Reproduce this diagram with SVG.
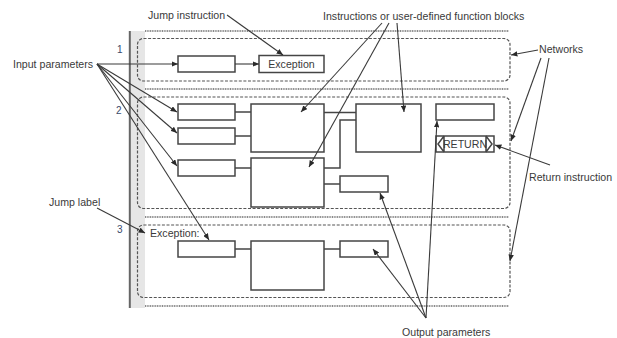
<svg xmlns="http://www.w3.org/2000/svg" width="617" height="338" viewBox="0 0 617 338">
<defs>
<style>
text{font-family:"Liberation Sans",Arial,sans-serif;font-size:10.6px;fill:#3a3a3a}
.num{font-size:10px;fill:#3a4a6a}
.box{fill:#fff;stroke:#454545;stroke-width:1.5}
.wire{fill:none;stroke:#454545;stroke-width:1.5}
.lead{fill:none;stroke:#3a3a3a;stroke-width:1.1;marker-end:url(#ah)}
.net{fill:none;stroke:#555;stroke-width:1.2;stroke-dasharray:3 1.6}
.sep{fill:none;stroke:#8a8a8a;stroke-width:2;stroke-dasharray:1 0.7}
</style>
<marker id="ah" viewBox="0 0 7 6" refX="7" refY="3" markerWidth="6.5" markerHeight="5.5" markerUnits="userSpaceOnUse" orient="auto">
<path d="M0,0 L7,3 L0,6 z" fill="#2a2a2a"/>
</marker>
</defs>
<rect width="617" height="338" fill="#fff"/>

<g id="rail">
<rect x="129" y="31" width="16" height="277" fill="#e6e6e6"/>
<line x1="129.8" y1="31" x2="129.8" y2="308" stroke="#666" stroke-width="2"/>
</g>

<g id="separators">
<line class="sep" x1="145" y1="31" x2="509" y2="31"/>
<line class="sep" x1="145" y1="89" x2="509" y2="89"/>
<line class="sep" x1="145" y1="217" x2="509" y2="217"/>
<line class="sep" x1="145" y1="306" x2="509" y2="306"/>
</g>

<g id="network1">
<rect class="net" x="137.5" y="38.5" width="372.5" height="42.5" rx="6"/>
<text class="num" x="117" y="52.5">1</text>
</g>
<g id="network2">
<rect class="net" x="137.5" y="97" width="372.5" height="111.5" rx="6"/>
<text class="num" x="116" y="114">2</text>
</g>
<g id="network3">
<rect class="net" x="137.5" y="225" width="372.5" height="72.5" rx="6"/>
<text class="num" x="117" y="232.5">3</text>
</g>

<g id="n1-in"><rect class="box" x="178" y="56" width="57" height="16"/></g>
<g id="n1-exception"><rect class="box" x="259" y="55.5" width="65" height="17"/><text x="291.5" y="68" text-anchor="middle" font-size="10.5">Exception</text></g>

<g id="n2-in1"><rect class="box" x="178" y="104" width="57" height="16"/></g>
<g id="n2-in2"><rect class="box" x="178" y="128" width="57" height="16"/></g>
<g id="n2-in3"><rect class="box" x="178" y="160" width="57" height="16"/></g>
<g id="n2-fb1"><rect class="box" x="251" y="104" width="73" height="48"/></g>
<g id="n2-fb2"><rect class="box" x="251" y="158" width="73" height="49"/></g>
<g id="n2-fb3"><rect class="box" x="356" y="104" width="65" height="48"/></g>
<g id="n2-out1"><rect class="box" x="340" y="176" width="48" height="16"/></g>
<g id="n2-out2"><rect class="box" x="436" y="104" width="58" height="16"/></g>
<g id="n2-return">
<rect class="box" x="436" y="136" width="58" height="16"/>
<path class="wire" d="M444,136 V152 M486,136 V152 M444,136 L438,144 L444,152 M486,136 L492,144 L486,152" stroke-width="1.2"/>
<text x="465" y="148" text-anchor="middle" font-size="9.5" fill="#3a4f78">RETURN</text>
</g>

<g id="n3-label"><text x="150" y="237">Exception:</text></g>
<g id="n3-in"><rect class="box" x="178" y="241" width="57" height="16"/></g>
<g id="n3-fb"><rect class="box" x="251" y="241" width="73" height="49"/></g>
<g id="n3-out"><rect class="box" x="340" y="241" width="48" height="16"/></g>

<g id="connectors">
<path class="wire" d="M235,112 H251 M235,136 H251 M235,168 H251"/>
<path class="wire" d="M324,112.5 H356 M324,168 H340 V120 H356 M324,184 H340"/>
<path class="wire" d="M235,249 H251 M324,249 H340"/>
<path class="lead" d="M235,64 H259"/>
<!-- input parameters -->
<path class="lead" d="M97,64 H178"/>
<path class="lead" d="M97,64 L177,112"/>
<path class="lead" d="M97,64 L177,133"/>
<path class="lead" d="M97,64 L177,166"/>
<path class="lead" d="M97,64 L209,240"/>
<!-- jump instruction -->
<path class="lead" d="M227,15 L283,55"/>
<!-- instructions -->
<path class="lead" d="M382,23 L301,112"/>
<path class="lead" d="M389,23 L309,167"/>
<path class="lead" d="M397,23 L404,112"/>
<!-- networks -->
<path class="lead" d="M538,50 L511,55"/>
<path class="lead" d="M541,58 L511,141"/>
<path class="lead" d="M549,58 L510,261"/>
<!-- return -->
<path class="lead" d="M550,165 L495,145"/>
<!-- jump label -->
<path class="lead" d="M97,208 L145,233"/>
<!-- output parameters -->
<path class="lead" d="M426,318 L380,193"/>
<path class="lead" d="M426,318 L373,249"/>
<path class="lead" d="M426,318 L437,121"/>
</g>

<g id="labels">
<text x="13" y="68">Input parameters</text>
<text x="148" y="19">Jump instruction</text>
<text x="323" y="19.5">Instructions or user-defined function blocks</text>
<text x="539" y="53">Networks</text>
<text x="529" y="181">Return instruction</text>
<text x="49" y="206">Jump label</text>
<text x="402" y="336">Output parameters</text>
</g>
</svg>
